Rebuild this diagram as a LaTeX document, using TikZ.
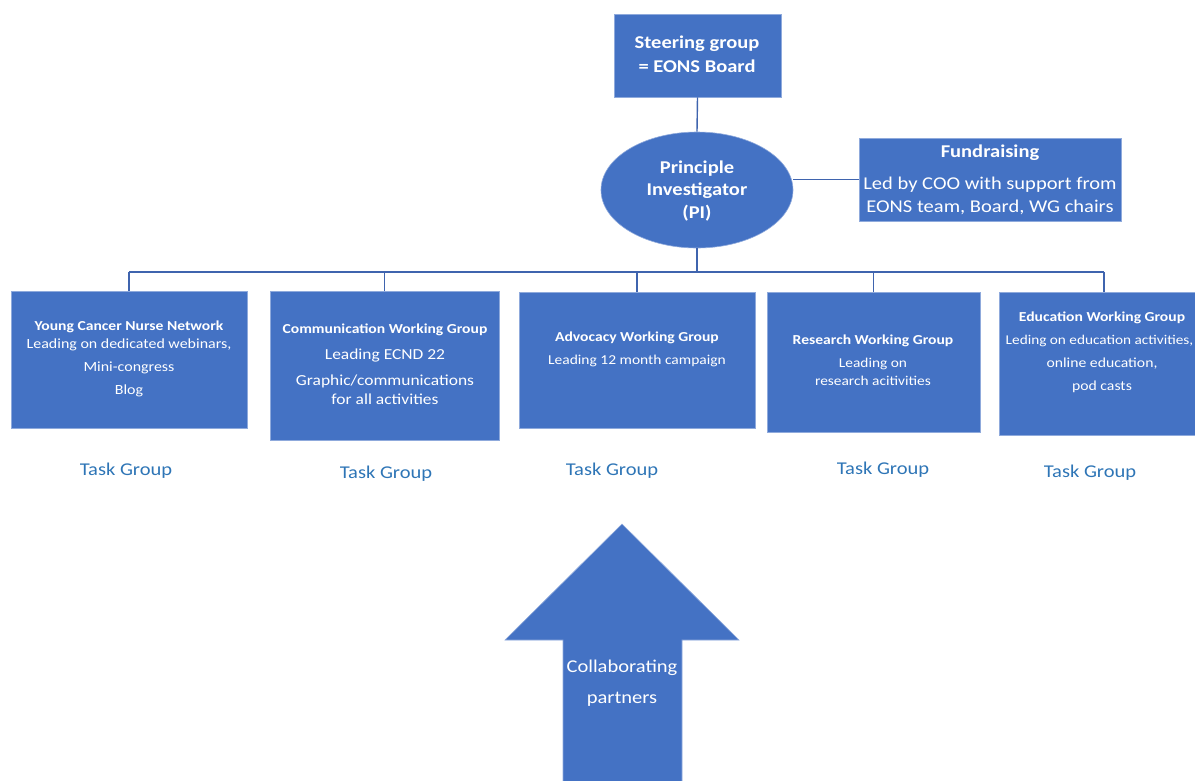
\documentclass[tikz,border=0pt]{standalone}
\usepackage{fontspec}
\setmainfont{Carlito}[FakeStretch=1.14]
\usetikzlibrary{shapes.geometric}
\definecolor{boxblue}{HTML}{4472C4}
\definecolor{edgeblue}{HTML}{8FAADC}
\definecolor{lineblue}{HTML}{3F64AE}
\definecolor{taskblue}{HTML}{2E75B6}
\begin{document}
\begin{tikzpicture}[x=1pt,y=-1pt,
  wgbox/.style={draw=edgeblue,line width=0.6pt,fill=boxblue,rectangle,inner sep=0pt},
  wt/.style={text=white,inner sep=0pt,anchor=center},
  ttl/.style={wt,font=\bfseries\fontsize{13.7}{15}\selectfont},
  conn/.style={draw=lineblue,line width=1.4pt},
  task/.style={text=taskblue,font=\fontsize{18}{20}\selectfont,inner sep=0pt}]
\useasboundingbox (0,0) rectangle (1195,780);
% top
\node[wgbox,minimum width=167pt,minimum height=83pt] (steer) at (697.5,55.5) {};
\node[wt,font=\bfseries\fontsize{18}{20}\selectfont] (steerT1) at (697,44) {Steering group};
\node[wt,font=\bfseries\fontsize{18}{20}\selectfont] (steerT2) at (697,66) {= EONS Board};
\node[ellipse,fill=boxblue,draw=edgeblue,line width=0.6pt,minimum width=192pt,minimum height=116pt,inner sep=0pt] (pi) at (697,190) {};
\node[wt,font=\bfseries\fontsize{18}{20}\selectfont] (piT1) at (697,169) {Principle};
\node[wt,font=\bfseries\fontsize{18}{20}\selectfont] (piT2) at (697,191) {Investigator};
\node[wt,font=\bfseries\fontsize{18}{20}\selectfont] (piT3) at (697,213) {(PI)};
\node[wgbox,minimum width=262pt,minimum height=83pt] (fund) at (990,179.5) {};
\node[wt,font=\bfseries\fontsize{18}{20}\selectfont] (fundT1) at (990,153) {Fundraising};
\node[wt,font=\fontsize{18}{20}\selectfont] (fundT2) at (990,185) {Led by COO with support from};
\node[wt,font=\fontsize{18}{20}\selectfont] (fundT3) at (990,207) {EONS team, Board, WG chairs};
% working groups
\node[wgbox,minimum width=236pt,minimum height=137pt] (b1) at (129,359.5) {};
\node[wgbox,minimum width=229pt,minimum height=149pt] (b2) at (384.5,365.5) {};
\node[wgbox,minimum width=236pt,minimum height=136pt] (b3) at (637,360) {};
\node[wgbox,minimum width=213pt,minimum height=140pt] (b4) at (873.5,362) {};
\node[wgbox,minimum width=210pt,minimum height=143pt] (b5) at (1104,363.5) {};
% box 1 text
\node[ttl] (t1a) at (129,327) {Young Cancer Nurse Network};
\node[wt,font=\fontsize{14}{16}\selectfont] (t1b) at (129,345) {Leading on dedicated webinars,};
\node[wt,font=\fontsize{14}{16}\selectfont] (t1c) at (129,368) {Mini-congress};
\node[wt,font=\fontsize{14}{16}\selectfont] (t1d) at (129,391) {Blog};
% box 2 text
\node[ttl] (t2a) at (385,330) {Communication Working Group};
\node[wt,font=\fontsize{15.3}{17}\selectfont] (t2b) at (385,355) {Leading ECND 22};
\node[wt,font=\fontsize{15.3}{17}\selectfont] (t2c) at (385,381) {Graphic/communications};
\node[wt,font=\fontsize{15.3}{17}\selectfont] (t2d) at (385,399) {for all activities};
% box 3 text
\node[ttl] (t3a) at (637,338) {Advocacy Working Group};
\node[wt,font=\fontsize{13.6}{15}\selectfont] (t3b) at (637,361) {Leading 12 month campaign};
% box 4 text
\node[ttl] (t4a) at (873,341) {Research Working Group};
\node[wt,font=\fontsize{13.5}{15}\selectfont] (t4b) at (873,364) {Leading on};
\node[wt,font=\fontsize{13.5}{15}\selectfont] (t4c) at (873,381) {research acitivities};
% box 5 text
\node[ttl] (t5a) at (1102,318) {Education Working Group};
\node[wt,font=\fontsize{13.4}{15}\selectfont] (t5b) at (1099.5,341) {Leding on education activities,};
\node[wt,font=\fontsize{13.8}{15}\selectfont] (t5c) at (1102,364) {online education,};
\node[wt,font=\fontsize{13.8}{15}\selectfont] (t5d) at (1102,387) {pod casts};
% task groups
\node[task] (tg1) at (126,471) {Task Group};
\node[task] (tg2) at (386,474) {Task Group};
\node[task] (tg3) at (612,471) {Task Group};
\node[task] (tg4) at (883,470) {Task Group};
\node[task] (tg5) at (1090,473) {Task Group};
% connectors
\coordinate (bus) at (697,272);
\draw[conn] (steer.south) -- (pi.north);
\draw[conn] (fund.west) -- (fund.west -| pi.east);
\draw[conn] (pi.south) -- (bus);
\draw[conn] (b1.north |- bus) -- (b5.north |- bus);
\draw[conn] (b1.north |- bus) -- (b1.north);
\draw[conn] (b2.north |- bus) -- (b2.north);
\draw[conn] (b3.north |- bus) -- (b3.north);
\draw[conn] (b4.north |- bus) -- (b4.north);
\draw[conn] (b5.north |- bus) -- (b5.north);
% big arrow
\fill[boxblue,draw=edgeblue,line width=0.6pt] (563,790) -- (563,640) -- (505,640) -- (622,524) -- (739,640) -- (682,640) -- (682,790) -- cycle;
\node[wt,font=\fontsize{18}{20}\selectfont] (collab1) at (622,668) {Collaborating};
\node[wt,font=\fontsize{18}{20}\selectfont] (collab2) at (622,699) {partners};
\end{tikzpicture}
\end{document}
